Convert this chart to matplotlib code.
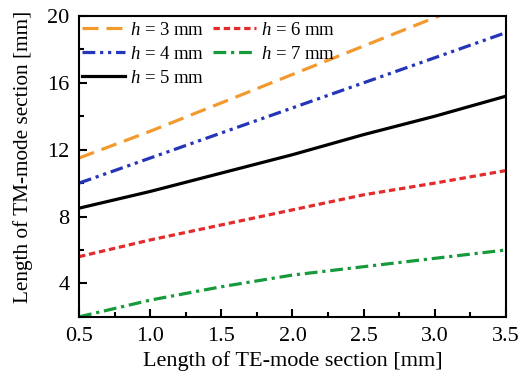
import numpy as np
import matplotlib
matplotlib.use("Agg")
import matplotlib.pyplot as plt
from matplotlib.ticker import MultipleLocator

plt.rcParams['font.family'] = ['Liberation Serif', 'DejaVu Serif']
plt.rcParams['mathtext.fontset'] = 'custom'
plt.rcParams['mathtext.it'] = 'Liberation Serif:italic'
plt.rcParams['mathtext.rm'] = 'Liberation Serif'

# TE-mode section length [mm]
te_len = [0.5, 1.0, 1.5, 2.0, 2.5, 3.0, 3.5]

# TM-mode section length [mm] for each h
tm_h3 = [11.5, 13.1, 14.8, 16.5, 18.2, 19.9, 21.6]
tm_h4 = [10.0, 11.5, 13.0, 14.5, 16.0, 17.5, 19.0]
tm_h5 = [8.5, 9.5, 10.6, 11.7, 12.9, 14.0, 15.2]
tm_h6 = [5.6, 6.6, 7.5, 8.4, 9.3, 10.0, 10.75]
tm_h7 = [2.0, 3.0, 3.8, 4.5, 5.0, 5.5, 6.0]

fig = plt.figure(figsize=(5.2, 3.79), dpi=100)
ax = fig.add_axes([0.152, 0.164, 0.821, 0.794])

lw = 2.3
ax.plot(te_len, tm_h3, color='#F39A2E', lw=lw, dashes=(5, 2.5), label='$h$ = 3 mm')
ax.plot(te_len, tm_h4, color='#2535B8', lw=lw, dashes=(4, 1.5, 1, 1.5, 1, 1.5), label='$h$ = 4 mm')
ax.plot(te_len, tm_h5, color='black', lw=lw, label='$h$ = 5 mm')
ax.plot(te_len, tm_h6, color='#E32B2B', lw=lw, dashes=(2, 1.2), label='$h$ = 6 mm')
ax.plot(te_len, tm_h7, color='#179A3B', lw=lw, dashes=(4, 1.5, 1, 1.5), label='$h$ = 7 mm')

ax.set_xlim(0.5, 3.5)
ax.set_ylim(2, 20)
ax.xaxis.set_major_locator(MultipleLocator(0.5))
ax.xaxis.set_minor_locator(MultipleLocator(0.25))
ax.yaxis.set_major_locator(MultipleLocator(4))
ax.yaxis.set_minor_locator(MultipleLocator(2))
ax.set_yticks([4, 8, 12, 16, 20])
ax.tick_params(which='both', direction='in', labelsize=16, width=1.5)
ax.tick_params(which='major', length=6, pad=7)
ax.tick_params(which='minor', length=3.5)
for s in ax.spines.values():
    s.set_linewidth(1.5)

ax.set_xlabel('Length of TE-mode section [mm]', fontsize=16, labelpad=4)
ax.set_ylabel('Length of TM-mode section [mm]', fontsize=15.3)
ax.yaxis.set_label_coords(-0.108, 0.53)

ax.legend(ncol=2, loc='upper left', bbox_to_anchor=(0.0, 0.99),
          frameon=False, fontsize=13.5,
          handlelength=2.3, handletextpad=0.27, columnspacing=0.45,
          labelspacing=0.36, borderaxespad=0.0, borderpad=0.15)

fig.savefig('out.png', dpi=100)
